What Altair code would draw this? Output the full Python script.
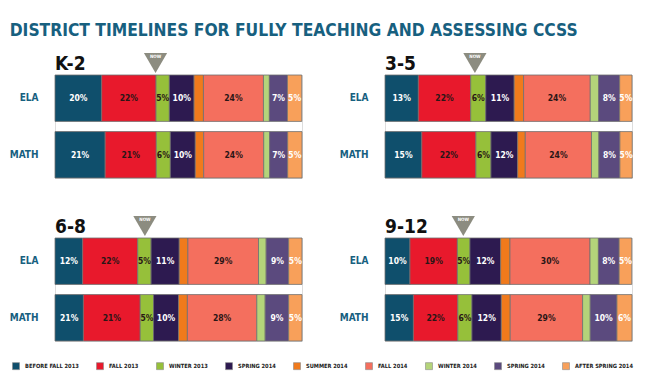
import json
import altair as alt
import pandas as pd

# ---------------- data ----------------
panels = ["K-2", "3-5", "6-8", "9-12"]
subjects = ["ELA", "MATH"]
periods = ["BEFORE FALL 2013", "FALL 2013", "WINTER 2013", "SPRING 2014", "SUMMER 2014",
           "FALL 2014", "WINTER 2014", "SPRING 2014", "AFTER SPRING 2014"]
period_ids = ["p0", "p1", "p2", "p3", "p4", "p5", "p6", "p7", "p8"]
colors = ["#0f4f6c", "#e8192c", "#96c03a", "#2d1a50", "#f07a1c",
          "#f46f5e", "#b4d47a", "#5b4a7e", "#f8a05a"]
dark_text_ids = ["p1", "p2", "p5"]

# bar segment widths (share of the bar)
k2_ela = [18.9, 22.0, 5.4, 10.0, 3.8, 24.3, 2.4, 7.3, 5.8]
k2_math = [20.3, 20.7, 5.7, 10.1, 3.4, 24.3, 2.4, 7.3, 5.8]
g35_ela = [13.5, 21.2, 6.1, 11.5, 3.8, 27.0, 3.4, 8.5, 5.0]
g35_math = [14.9, 21.9, 6.1, 10.8, 3.1, 26.8, 3.0, 8.5, 5.0]
g68_ela = [11.2, 22.3, 5.4, 11.4, 3.5, 28.6, 3.1, 9.1, 5.4]
g68_math = [11.5, 23.0, 5.4, 10.1, 3.6, 28.1, 3.4, 9.5, 5.4]
g912_ela = [10.1, 19.2, 5.1, 12.4, 3.8, 32.4, 3.4, 8.4, 5.1]
g912_math = [11.5, 18.0, 5.7, 11.9, 3.6, 29.3, 3.1, 10.8, 6.1]

# printed percentage labels
k2_ela_lab = ["20%", "22%", "5%", "10%", "", "24%", "", "7%", "5%"]
k2_math_lab = ["21%", "21%", "6%", "10%", "", "24%", "", "7%", "5%"]
g35_ela_lab = ["13%", "22%", "6%", "11%", "", "24%", "", "8%", "5%"]
g35_math_lab = ["15%", "22%", "6%", "12%", "", "24%", "", "8%", "5%"]
g68_ela_lab = ["12%", "22%", "5%", "11%", "", "29%", "", "9%", "5%"]
g68_math_lab = ["21%", "21%", "5%", "10%", "", "28%", "", "9%", "5%"]
g912_ela_lab = ["10%", "19%", "5%", "12%", "", "30%", "", "8%", "5%"]
g912_math_lab = ["15%", "22%", "6%", "12%", "", "29%", "", "10%", "6%"]

now_positions = [40.7, 36.4, 36.4, 31.7]
now_text = "NOW"
title_text = "DISTRICT TIMELINES FOR FULLY TEACHING AND ASSESSING CCSS"

series = {
    ("K-2", "ELA"): (k2_ela, k2_ela_lab), ("K-2", "MATH"): (k2_math, k2_math_lab),
    ("3-5", "ELA"): (g35_ela, g35_ela_lab), ("3-5", "MATH"): (g35_math, g35_math_lab),
    ("6-8", "ELA"): (g68_ela, g68_ela_lab), ("6-8", "MATH"): (g68_math, g68_math_lab),
    ("9-12", "ELA"): (g912_ela, g912_ela_lab), ("9-12", "MATH"): (g912_math, g912_math_lab),
}

rows = []
for (panel, subj), (vals, labs) in series.items():
    for i, (v, l) in enumerate(zip(vals, labs)):
        rows.append({"panel": panel, "subject": subj, "pid": period_ids[i],
                     "order": i, "share": v, "label": l})
df = pd.DataFrame(rows)
now_df = pd.DataFrame({"panel": panels, "now": now_positions, "nowlab": [now_text] * 4})

# ---------------- styles ----------------
NARROW = "DejaVu Sans Condensed"
TEAL = "#17607f"

label_expr = "%s[indexof(%s, datum.label)]" % (json.dumps(periods), json.dumps(period_ids))

xscale = alt.Scale(domain=[0, 100], nice=False, zero=True)


def panel_chart(panel):
    base = (alt.Chart(df)
            .transform_filter(alt.datum.panel == panel)
            .transform_window(cum="sum(share)", groupby=["subject"],
                              sort=[alt.SortField("order")], frame=[None, 0])
            .transform_calculate(start="datum.cum - datum.share",
                                 mid="datum.cum - datum.share / 2"))
    y = alt.Y("subject:N", sort=subjects, title=None,
              scale=alt.Scale(paddingInner=0.18, paddingOuter=0),
              axis=alt.Axis(domain=False, ticks=False, labelPadding=17,
                            labelFont=NARROW, labelFontSize=10,
                            labelFontWeight="bold", labelColor=TEAL))
    bars = base.mark_bar(stroke="#707070", strokeWidth=0.8).encode(
        x=alt.X("start:Q", scale=xscale, axis=None),
        x2="cum:Q",
        y=y,
        color=alt.Color("pid:N", scale=alt.Scale(domain=period_ids, range=colors),
                        legend=alt.Legend(
                            title=None, orient="none", direction="horizontal",
                            legendX=-43, legendY=287, labelExpr=label_expr,
                            symbolType="square", symbolSize=49,
                            symbolStrokeColor="#8a8a8a", symbolStrokeWidth=0.6,
                            labelFont=NARROW, labelFontSize=5.7, labelFontWeight="bold",
                            labelColor="#222222", labelOffset=5, columnPadding=16)),
    )
    texts = base.transform_filter(alt.datum.label != "").mark_text(
        font=NARROW, fontSize=8.5, fontWeight="bold").encode(
        x=alt.X("mid:Q", scale=xscale, axis=None),
        y=alt.Y("subject:N", sort=subjects),
        text="label:N",
        color=alt.condition(alt.FieldOneOfPredicate(field="pid", oneOf=dark_text_ids),
                            alt.value("#2a1616"), alt.value("white")),
    )
    nb = alt.Chart(now_df).transform_filter(alt.datum.panel == panel)
    tri = nb.mark_point(shape="triangle-down", size=540, filled=True, opacity=1,
                        color="#8c8c80").encode(
        x=alt.X("now:Q", scale=xscale, axis=None), y=alt.value(-12))
    tri_txt = nb.mark_text(font=NARROW, fontSize=4.5, fontWeight="bold",
                           color="white").encode(
        x=alt.X("now:Q", scale=xscale, axis=None), y=alt.value(-18), text="nowlab:N")
    ptitle = nb.mark_text(font=NARROW, fontSize=19, fontWeight="bold", color="#111111",
                          align="left", baseline="alphabetic").encode(
        x=alt.value(0), y=alt.value(-5), text="panel:N")
    return alt.layer(bars, texts, tri, tri_txt, ptitle).properties(width=247, height=103)


row1 = alt.hconcat(panel_chart("K-2"), panel_chart("3-5"), spacing=35)
row2 = alt.hconcat(panel_chart("6-8"), panel_chart("9-12"), spacing=35)

chart = (alt.vconcat(row1, row2, spacing=36)
         .resolve_scale(color="shared")
         .properties(
             title=alt.TitleParams(title_text, anchor="start", font=NARROW, fontSize=17.3,
                                   fontWeight="bold", color=TEAL, offset=13, dx=1),
             padding={"left": 8, "top": 22, "right": 4, "bottom": 4})
         .configure_view(stroke=None)
         .configure(background="white"))

chart.save("out.html", embed_options={"renderer": "svg", "actions": False})
